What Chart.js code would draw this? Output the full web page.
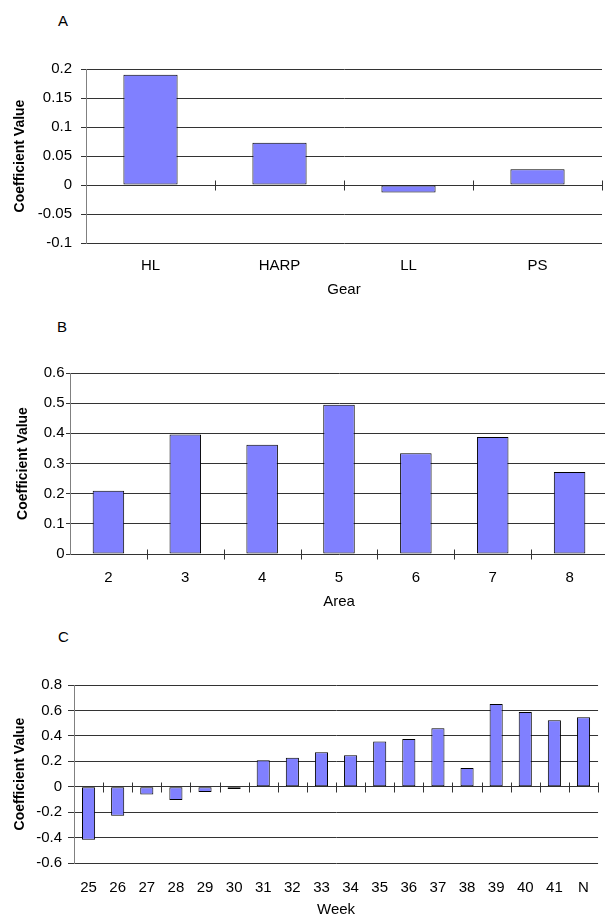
<!DOCTYPE html>
<html>
<head>
<meta charset="utf-8">
<script src="https://cdn.jsdelivr.net/npm/chart.js@4.4.1/dist/chart.umd.min.js"></script>
<style>
  html, body { margin: 0; padding: 0; background: #fff; width: 605px; height: 917px; overflow: hidden; position: relative; }
  canvas { position: absolute; left: 0; }
  .letter { position: absolute; font: 15px "Liberation Sans", Arial, sans-serif; color: #000; }
</style>
</head>
<body>
<div class="letter" style="left:58px;top:12px">A</div>
<div class="letter" style="left:57px;top:318px">B</div>
<div class="letter" style="left:58px;top:628px">C</div>
<canvas id="chartA" width="605" height="275" style="top:40px"></canvas>
<canvas id="chartB" width="612" height="300" style="top:320px"></canvas>
<canvas id="chartC" width="605" height="295" style="top:630px"></canvas>
<script>
// Panel A - gear
const gearLabels = ['HL', 'HARP', 'LL', 'PS'];
const gearValues = [0.19, 0.073, -0.013, 0.027];
const gearTicks = [-0.1, -0.05, 0, 0.05, 0.1, 0.15, 0.2];

// Panel B - area
const areaLabels = ['2', '3', '4', '5', '6', '7', '8'];
const areaValues = [0.21, 0.396, 0.362, 0.495, 0.334, 0.388, 0.272];
const areaTicks = [0, 0.1, 0.2, 0.3, 0.4, 0.5, 0.6];

// Panel C - week
const weekLabels = ['25', '26', '27', '28', '29', '30', '31', '32', '33', '34', '35', '36', '37', '38', '39', '40', '41', 'N'];
const weekValues = [-0.418, -0.228, -0.062, -0.104, -0.042, -0.018, 0.209, 0.228, 0.272, 0.248, 0.356, 0.376, 0.46, 0.148, 0.65, 0.588, 0.522, 0.546];
const weekTicks = [-0.6, -0.4, -0.2, 0, 0.2, 0.4, 0.6, 0.8];

const FONT = '"Liberation Sans", Arial, sans-serif';

// little tick marks across the zero line, between categories
const zeroTicks = {
    id: 'zeroTicks',
    afterDatasetsDraw(chart) {
        const x = chart.scales.x, y = chart.scales.y, ctx = chart.ctx;
        const y0 = Math.round(y.getPixelForValue(0)) + 0.5;
        const n = chart.data.labels.length;
        const w = x.getPixelForValue(1) - x.getPixelForValue(0);
        ctx.save();
        ctx.strokeStyle = '#333';
        ctx.lineWidth = 1;
        ctx.beginPath();
        for (let i = 1; i <= n; i++) {
            const px = Math.round(x.getPixelForValue(i - 1) + w / 2) + 0.5;
            ctx.moveTo(px, y0 - 5);
            ctx.lineTo(px, y0 + 5);
        }
        ctx.stroke();
        ctx.restore();
    }
};

function makeChart(id, labels, values, yTicks, xTitle, box) {
    return new Chart(document.getElementById(id), {
        type: 'bar',
        data: {
            labels: labels,
            datasets: [{
                data: values,
                backgroundColor: '#8080ff',
                borderColor: '#000',
                borderWidth: 1,
                borderSkipped: false,
                barPercentage: box.barPct,
                categoryPercentage: 1
            }]
        },
        options: {
            responsive: false,
            animation: false,
            devicePixelRatio: 1,
            layout: { padding: { left: 0, right: box.right, top: box.top, bottom: 0 } },
            plugins: { legend: { display: false }, tooltip: { enabled: false } },
            scales: {
                x: {
                    grid: { display: false, drawTicks: false },
                    border: { display: false },
                    ticks: { color: '#000', font: { family: FONT, size: 15 }, padding: box.xPad, maxRotation: 0, autoSkip: false },
                    title: { display: true, text: xTitle, color: '#000', font: { family: FONT, size: 15 }, padding: { top: 0, bottom: box.xTitlePad } },
                    afterFit: s => { s.height = box.xHeight; }
                },
                y: {
                    min: yTicks[0],
                    max: yTicks[yTicks.length - 1],
                    afterBuildTicks: s => { s.ticks = yTicks.map(v => ({ value: v })); },
                    grid: { color: '#333', tickLength: box.tickLen },
                    border: { color: '#808080' },
                    ticks: { color: '#000', font: { family: FONT, size: 15 }, padding: box.yPad, callback: v => String(v) },
                    title: { display: true, text: 'Coefficient Value', color: '#000', font: { family: FONT, size: 14, weight: 'bold' }, padding: { top: box.yTitlePad, bottom: 0 } },
                    afterFit: s => { s.width = box.yWidth; }
                }
            }
        },
        plugins: [zeroTicks]
    });
}

makeChart('chartA', gearLabels, gearValues, gearTicks, 'Gear', {
    top: 29, right: 3, yWidth: 86, xHeight: 72, xPad: 13.5, xTitlePad: 16,
    tickLen: 5, yPad: 9, yTitlePad: 12, barPct: 0.42
});
makeChart('chartB', areaLabels, areaValues, areaTicks, 'Area', {
    top: 53, right: 4, yWidth: 70, xHeight: 66, xPad: 15.3, xTitlePad: 9.3,
    tickLen: 4, yPad: 1.5, yTitlePad: 15, barPct: 0.41
});
makeChart('chartC', weekLabels, weekValues, weekTicks, 'Week', {
    top: 55, right: 3, yWidth: 74, xHeight: 62, xPad: 16, xTitlePad: 6,
    tickLen: 6, yPad: 6, yTitlePad: 12, barPct: 0.45
});
</script>
</body>
</html>
